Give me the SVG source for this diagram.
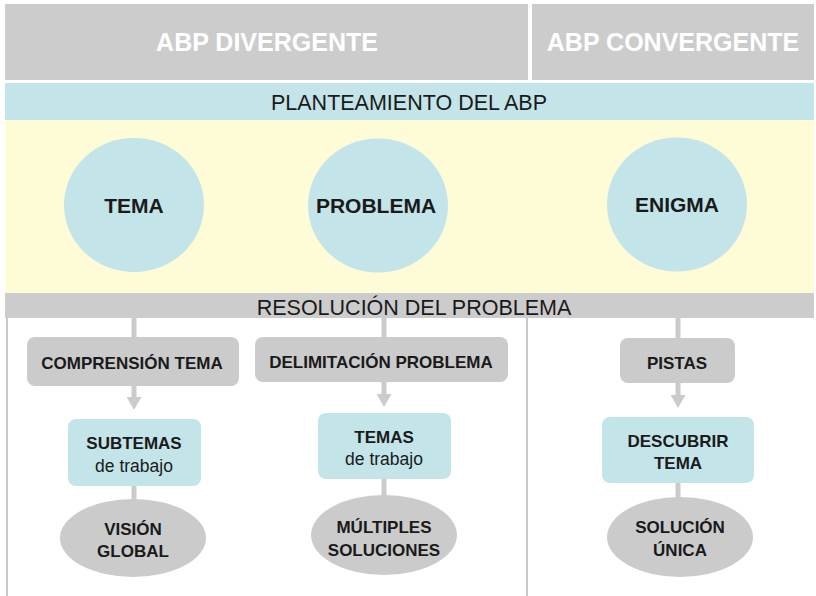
<svg xmlns="http://www.w3.org/2000/svg" width="816" height="596" viewBox="0 0 816 596">
<style>
text{font-family:"Liberation Sans",Arial,sans-serif;fill:#1a1a1a;text-anchor:middle}
.hd{font-size:25px;font-weight:bold;fill:#ffffff}
.band{font-size:21.5px}
.big{font-size:21px;font-weight:bold}
.lb{font-size:17px;font-weight:bold}
.sm{font-size:17.5px}
.gray{fill:#cbcbcb}
.blue{fill:#c3e4e8}
.conn{stroke:#cbcbcb;stroke-width:5;fill:none}
.rule{stroke:#c8c8c8;stroke-width:2;fill:none}
</style>
<defs>
<marker id="ah" markerUnits="userSpaceOnUse" markerWidth="13" markerHeight="15" viewBox="0 0 13 15" refX="0" refY="7.5" orient="auto">
<path d="M0,0 L13,7.5 L0,15 z" fill="#cbcbcb"/>
</marker>
</defs>
<rect x="0" y="0" width="816" height="596" fill="#ffffff"/>
<g id="header">
<rect x="5" y="4" width="523" height="76" fill="#cccccc"/>
<rect x="532" y="4" width="282" height="76" fill="#cccccc"/>
<text class="hd" x="267" y="51">ABP DIVERGENTE</text>
<text class="hd" x="673" y="51">ABP CONVERGENTE</text>
</g>
<g id="planteamiento">
<rect x="5" y="83" width="809" height="37" fill="#c3e4e8"/>
<text class="band" x="409" y="110">PLANTEAMIENTO DEL ABP</text>
<rect x="5" y="120" width="809" height="173" fill="#fefbd7"/>
</g>
<g id="resolucion">
<rect x="5" y="293" width="809" height="25" fill="#cccccc"/>
<text class="band" x="414" y="315">RESOLUCIÓN DEL PROBLEMA</text>
</g>
<g id="rules">
<line class="rule" x1="7" y1="318" x2="7" y2="596"/>
<line class="rule" x1="527" y1="318" x2="527" y2="596"/>
</g>
<g id="connectors">
<line class="conn" x1="134" y1="318" x2="134" y2="338"/>
<line class="conn" x1="134" y1="386" x2="134" y2="397" marker-end="url(#ah)"/>
<line class="conn" x1="134" y1="485" x2="134" y2="500"/>
<line class="conn" x1="384" y1="318" x2="384" y2="338"/>
<line class="conn" x1="384" y1="382" x2="384" y2="394" marker-end="url(#ah)"/>
<line class="conn" x1="384" y1="478" x2="384" y2="496"/>
<line class="conn" x1="678" y1="318" x2="678" y2="339"/>
<line class="conn" x1="678" y1="383" x2="678" y2="395" marker-end="url(#ah)"/>
<line class="conn" x1="678" y1="482" x2="678" y2="499"/>
</g>
<g id="tema">
<ellipse class="blue" cx="134" cy="205" rx="70" ry="67"/>
<text class="big" x="134" y="213">TEMA</text>
</g>
<g id="problema">
<ellipse class="blue" cx="378" cy="205.5" rx="70" ry="67"/>
<text class="big" x="376" y="213">PROBLEMA</text>
</g>
<g id="enigma">
<ellipse class="blue" cx="677" cy="204.5" rx="70" ry="67"/>
<text class="big" x="677" y="212">ENIGMA</text>
</g>
<g id="comprension">
<rect class="gray" x="27" y="337" width="212" height="49" rx="8"/>
<text class="lb" x="132" y="369">COMPRENSIÓN TEMA</text>
</g>
<g id="subtemas">
<rect class="blue" x="68" y="419" width="133" height="67" rx="8"/>
<text class="lb" x="134" y="449">SUBTEMAS</text>
<text class="sm" x="134" y="472">de trabajo</text>
</g>
<g id="vision">
<ellipse class="gray" cx="133" cy="538" rx="73" ry="39"/>
<text class="lb" x="133" y="535">VISIÓN</text>
<text class="lb" x="133" y="557">GLOBAL</text>
</g>
<g id="delimitacion">
<rect class="gray" x="255" y="337" width="253" height="45" rx="8"/>
<text class="lb" x="381" y="368">DELIMITACIÓN PROBLEMA</text>
</g>
<g id="temas">
<rect class="blue" x="318" y="413" width="133" height="66" rx="8"/>
<text class="lb" x="384" y="443">TEMAS</text>
<text class="sm" x="384" y="465">de trabajo</text>
</g>
<g id="multiples">
<ellipse class="gray" cx="384" cy="535" rx="73" ry="40"/>
<text class="lb" x="384" y="533">MÚLTIPLES</text>
<text class="lb" x="384" y="556">SOLUCIONES</text>
</g>
<g id="pistas">
<rect class="gray" x="620" y="338" width="115" height="45" rx="8"/>
<text class="lb" x="677" y="369">PISTAS</text>
</g>
<g id="descubrir">
<rect class="blue" x="602" y="417" width="152" height="66" rx="8"/>
<text class="lb" x="678" y="447">DESCUBRIR</text>
<text class="lb" x="678" y="469">TEMA</text>
</g>
<g id="solucion">
<ellipse class="gray" cx="680" cy="537" rx="73" ry="40"/>
<text class="lb" x="680" y="533">SOLUCIÓN</text>
<text class="lb" x="680" y="556">ÚNICA</text>
</g>
</svg>
